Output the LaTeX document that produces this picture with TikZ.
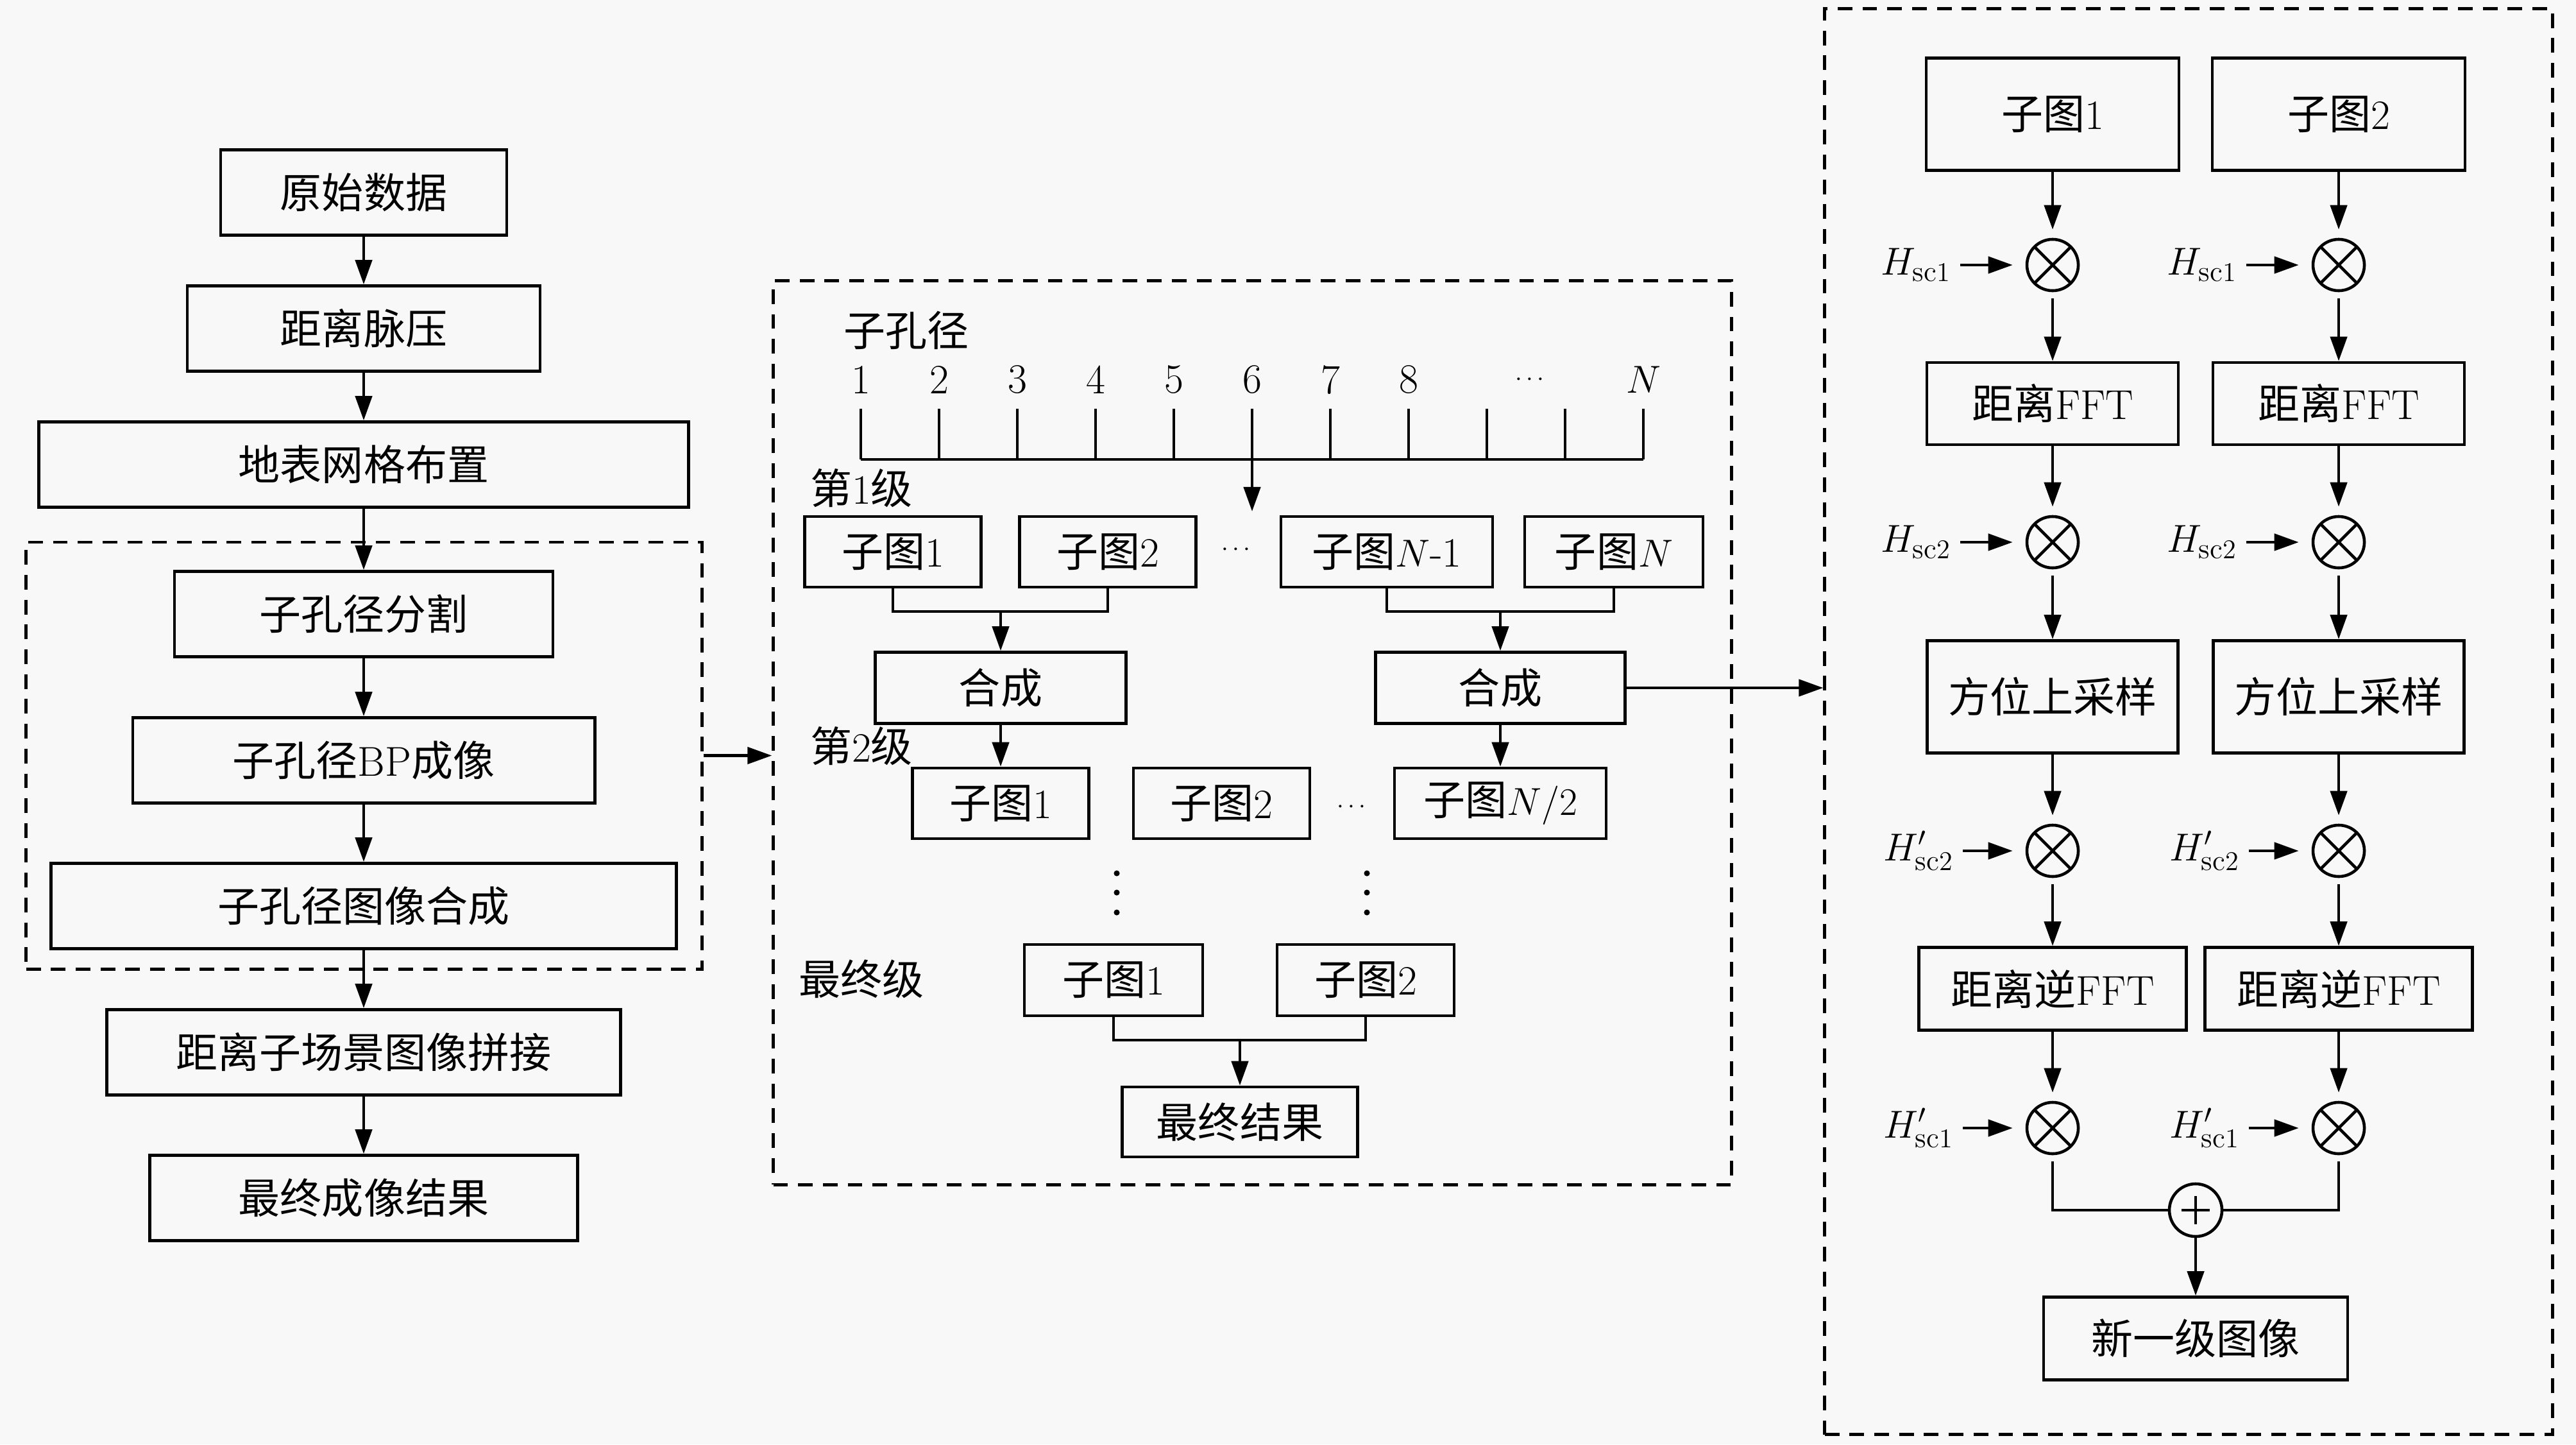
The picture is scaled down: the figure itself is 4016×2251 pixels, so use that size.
\documentclass[tikz,border=0pt]{standalone}
\usepackage{fontspec}
\newfontfamily\cjk{Noto Sans CJK SC}
\usepackage{tikz}
\usetikzlibrary{arrows.meta,calc}
\definecolor{paper}{HTML}{F8F8F8}
\newcommand\zh[1]{{\cjk #1}}

\begin{document}
\begin{tikzpicture}[x=0.01cm,y=-0.01cm,line width=1.3pt,font=\fontsize{18.5}{22}\selectfont,
  box/.style={draw,rectangle,inner sep=0pt,minimum height=1.33cm},
  dbox/.style={draw,dash pattern=on 6.5pt off 4.5pt,inner sep=0pt},
  arr/.style={-{Triangle[length=3.8mm,width=2.6mm]}},
  mul/.style={draw,circle,minimum size=0.8cm,inner sep=0pt,
    path picture={\draw (path picture bounding box.north west)--(path picture bounding box.south east)
      (path picture bounding box.north east)--(path picture bounding box.south west);}},
  add/.style={draw,circle,minimum size=0.82cm,inner sep=0pt,
    path picture={\draw (path picture bounding box.center) +(-0.22cm,0) -- +(0.22cm,0) +(0,-0.22cm) -- +(0,0.22cm);}},
  gap/.style={font=\fontsize{11}{13}\selectfont}]
\useasboundingbox (0,0) rectangle (4016,2251);
\fill[paper] (0,0) rectangle (4016,2251);

\node[box,minimum width=4.46cm] (raw) at (567,300) {\zh{原始数据}};
\node[box,minimum width=5.5cm] (rc) at (567,512) {\zh{距离脉压}};
\node[box,minimum width=10.12cm] (grid) at (567,724) {\zh{地表网格布置}};
\node[box,minimum width=5.9cm] (split) at (567,957) {\zh{子孔径分割}};
\node[box,minimum width=7.2cm] (bp) at (567,1185) {\zh{子孔径}BP\zh{成像}};
\node[box,minimum width=9.74cm] (merge) at (567,1412) {\zh{子孔径图像合成}};
\node[box,minimum width=8cm] (mosaic) at (567,1640) {\zh{距离子场景图像拼接}};
\node[box,minimum width=6.67cm] (final) at (567,1867) {\zh{最终成像结果}};
\node[dbox,minimum width=10.53cm,minimum height=6.65cm] (grpL) at (567.5,1177.5) {};
\foreach \a/\b in {raw/rc,rc/grid,grid/split,split/bp,bp/merge,merge/mosaic,mosaic/final}
  \draw[arr] (\a) -- (\b);

\node[dbox,minimum width=14.93cm,minimum height=14.08cm] (grpM) at (1952.5,1142) {};
\draw[arr] (grpL.east) -- (grpL.east -| grpM.west);
\node (aplbl) at (1413,515) {\zh{子孔径}};
\foreach \n [count=\i from 0] in {1,...,8} \node (num\n) at (1342+122*\i,592) {\n};
\node[gap] (numdots) at (2385,592) {$\cdots$};
\node (numN) at (2562,592) {$N$};
\foreach \i in {0,...,10} \draw (1342+122*\i,637) -- (1342+122*\i,716);
\draw (1342,716) -- (2562,716);
\coordinate (t6) at (1952,716);
\coordinate (t6e) at (1952,797);
\draw[arr] (t6) -- (t6e);

\node (lv1) at (1343,761) {\zh{第}1\zh{级}};
\node[box,minimum width=2.75cm,minimum height=1.1cm] (a1) at (1392,860) {\zh{子图}1};
\node[box,minimum width=2.75cm,minimum height=1.1cm] (a2) at (1727,860) {\zh{子图}2};
\node[gap] (adots) at (1927,857) {$\cdots$};
\node[box,minimum width=3.3cm,minimum height=1.1cm] (a3) at (2162,860) {\zh{子图}$N$-1};
\node[box,minimum width=2.78cm,minimum height=1.1cm] (a4) at (2516,860) {\zh{子图}$N$};
\coordinate (ja) at (1560,953);
\coordinate (jb) at (2339,953);
\draw (a1.south) |- (ja) -| (a2.south);
\draw (a3.south) |- (jb) -| (a4.south);
\node[box,minimum width=3.91cm,minimum height=1.11cm] (c1) at (1560,1072) {\zh{合成}};
\node[box,minimum width=3.89cm,minimum height=1.11cm] (c2) at (2339,1072) {\zh{合成}};
\draw[arr] (ja) -- (c1);
\draw[arr] (jb) -- (c2);

\node (lv2) at (1343,1163) {\zh{第}2\zh{级}};
\node[box,minimum width=2.75cm,minimum height=1.1cm] (b1) at (1560,1252) {\zh{子图}1};
\node[box,minimum width=2.75cm,minimum height=1.1cm] (b2) at (1904.5,1252) {\zh{子图}2};
\node[gap] (bdots) at (2107,1258) {$\cdots$};
\node[box,minimum width=3.3cm,minimum height=1.1cm] (b3) at (2339,1252) {\zh{子图}$N/2$};
\draw[arr] (c1) -- (b1);
\draw[arr] (c2) -- (b3);
\foreach \x in {1741,2131} \foreach \y in {1361,1391,1422} \fill (\x,\y) circle (1.3pt);

\node (lvf) at (1343,1526) {\zh{最终级}};
\node[box,minimum width=2.78cm,minimum height=1.11cm] (f1) at (1736,1527.5) {\zh{子图}1};
\node[box,minimum width=2.76cm,minimum height=1.11cm] (f2) at (2129,1527.5) {\zh{子图}2};
\coordinate (jf) at (1933,1621);
\draw (f1.south) |- (jf) -| (f2.south);
\node[box,minimum width=3.67cm,minimum height=1.09cm] (fin) at (1933,1748.5) {\zh{最终结果}};
\draw[arr] (jf) -- (fin);

\node[dbox,minimum width=11.34cm,minimum height=22.21cm] (grpR) at (3412,1124.5) {};
\draw[arr] (c2.east) -- (c2.east -| grpR.west);

\foreach \k/\x in {1/3200,2/3646} {
  \node[box,minimum width=3.94cm,minimum height=1.75cm] (sub\k) at (\x,178) {\zh{子图}\k};
  \node[mul] (m1\k) at (\x,413) {};
  \node[box,minimum width=3.92cm,minimum height=1.28cm] (fft\k) at (\x,629) {\zh{距离}FFT};
  \node[mul] (m2\k) at (\x,845) {};
  \node[box,minimum width=3.91cm,minimum height=1.75cm] (up\k) at (\x,1086) {\zh{方位上采样}};
  \node[mul] (m3\k) at (\x,1326) {};
  \node[box,minimum width=4.17cm,minimum height=1.29cm] (ifft\k) at (\x,1541) {\zh{距离逆}FFT};
  \node[mul] (m4\k) at (\x,1758) {};
  \node (ha\k) at (\x-213,413) {$H_{\mathrm{sc}1}$};
  \node (hb\k) at (\x-213,845) {$H_{\mathrm{sc}2}$};
  \node (hc\k) at (\x-209,1326) {$H'_{\mathrm{sc}2}$};
  \node (hd\k) at (\x-209,1758) {$H'_{\mathrm{sc}1}$};
  \draw[arr,shorten >=1.3mm] (sub\k) -- (m1\k);
  \draw[arr,shorten <=1mm] (m1\k) -- (fft\k);
  \draw[arr,shorten >=1.3mm] (fft\k) -- (m2\k);
  \draw[arr,shorten <=1mm] (m2\k) -- (up\k);
  \draw[arr,shorten >=1.3mm] (up\k) -- (m3\k);
  \draw[arr,shorten <=1mm] (m3\k) -- (ifft\k);
  \draw[arr,shorten >=1.3mm] (ifft\k) -- (m4\k);
  \draw[arr,shorten >=2mm] (ha\k) -- (m1\k);
  \draw[arr,shorten >=2mm] (hb\k) -- (m2\k);
  \draw[arr,shorten >=2mm] (hc\k) -- (m3\k);
  \draw[arr,shorten >=2mm] (hd\k) -- (m4\k);
}
\node[add] (sum) at (3423,1886) {};
\draw[shorten <=1mm] (m41) |- (sum);
\draw[shorten <=1mm] (m42) |- (sum);
\node[box,minimum width=4.74cm,minimum height=1.29cm] (newimg) at (3423,2086) {\zh{新一级图像}};
\draw[arr] (sum) -- (newimg);
\end{tikzpicture}
\end{document}
